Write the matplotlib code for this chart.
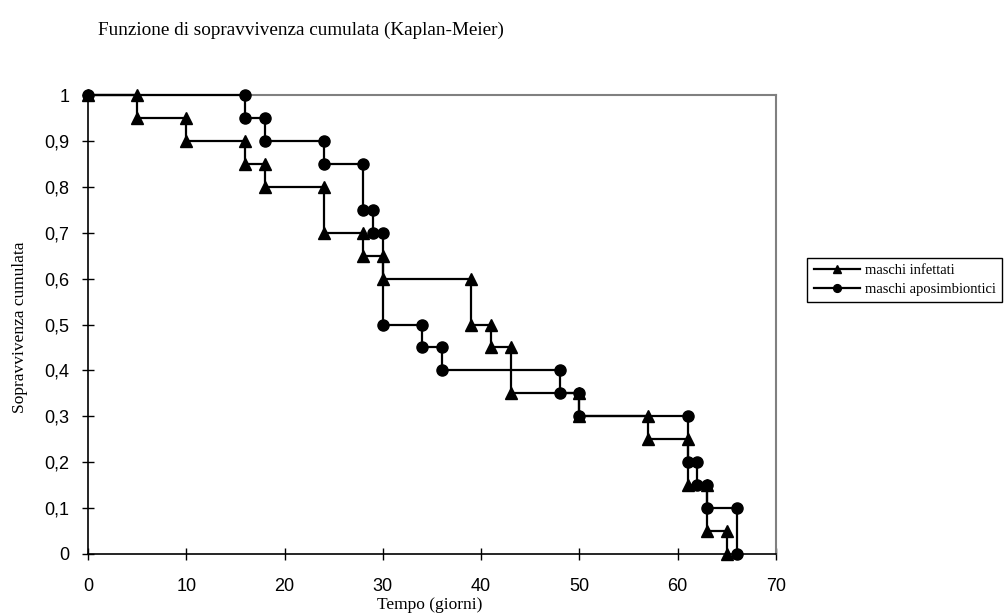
import matplotlib
matplotlib.use('Agg')
import matplotlib.pyplot as plt
from matplotlib.ticker import FuncFormatter

# tempi e sopravvivenza (vertici della curva a gradini)
t_infettati = [0, 5, 5, 10, 10, 16, 16, 18, 18, 24, 24, 28, 28, 30, 30, 39, 39,
               41, 41, 43, 43, 50, 50, 57, 57, 61, 61, 63, 63, 65, 65]
s_infettati = [1, 1, 0.95, 0.95, 0.9, 0.9, 0.85, 0.85, 0.8, 0.8, 0.7, 0.7, 0.65,
               0.65, 0.6, 0.6, 0.5, 0.5, 0.45, 0.45, 0.35, 0.35, 0.3, 0.3, 0.25,
               0.25, 0.15, 0.15, 0.05, 0.05, 0]

t_aposimb = [0, 16, 16, 18, 18, 24, 24, 28, 28, 29, 29, 30, 30, 34, 34, 36, 36,
             48, 48, 50, 50, 61, 61, 62, 62, 63, 63, 66, 66]
s_aposimb = [1, 1, 0.95, 0.95, 0.9, 0.9, 0.85, 0.85, 0.75, 0.75, 0.7, 0.7, 0.5,
             0.5, 0.45, 0.45, 0.4, 0.4, 0.35, 0.35, 0.3, 0.3, 0.2, 0.2, 0.15,
             0.15, 0.1, 0.1, 0]

x_ticks = [0, 10, 20, 30, 40, 50, 60, 70]
y_ticks = [0, 0.1, 0.2, 0.3, 0.4, 0.5, 0.6, 0.7, 0.8, 0.9, 1]

serif = 'Liberation Serif'
sans = 'Liberation Sans'

fig = plt.figure(figsize=(10.06, 6.16), dpi=100)
ax = fig.add_axes([88 / 1006, 62 / 616, 688 / 1006, 459 / 616])

ax.plot(t_infettati, s_infettati, color='black', lw=1.6, marker='^', ms=8.5,
        clip_on=False, zorder=3, label='maschi infettati')
ax.plot(t_aposimb, s_aposimb, color='black', lw=1.6, marker='o', ms=8,
        clip_on=False, zorder=4, label='maschi aposimbiontici')

ax.set_xlim(0, 70)
ax.set_ylim(0, 1)
ax.set_xticks(x_ticks)
ax.set_yticks(y_ticks)
ax.yaxis.set_major_formatter(FuncFormatter(lambda v, p: ('%g' % round(v, 2)).replace('.', ',')))
ax.tick_params(direction='inout', length=9, width=1, labelsize=13)
ax.tick_params(axis='x', pad=13)
ax.tick_params(axis='y', pad=9)
for lab in ax.get_xticklabels() + ax.get_yticklabels():
    lab.set_fontfamily(sans)

for s in ['top', 'right']:
    ax.spines[s].set_color('#808080')
    ax.spines[s].set_linewidth(1.5)
for s in ['left', 'bottom']:
    ax.spines[s].set_color('black')
    ax.spines[s].set_linewidth(1.2)

fig.text(301 / 1006, 1 - 30 / 616, 'Funzione di sopravvivenza cumulata (Kaplan-Meier)',
         ha='center', va='center', fontsize=13.8, family=serif)
fig.text(430 / 1006, 1 - 605 / 616, 'Tempo (giorni)', ha='center', va='center',
         fontsize=12.5, family=serif)
fig.text(20 / 1006, 1 - 327 / 616, 'Sopravvivenza cumulata', ha='center', va='center',
         rotation=90, fontsize=12.5, family=serif)

leg = fig.legend(loc='center left', bbox_to_anchor=(807 / 1006, 1 - 280 / 616),
                 prop={'family': serif, 'size': 10.5}, fancybox=False,
                 edgecolor='black', framealpha=1, markerscale=0.7,
                 handlelength=3.2, handletextpad=0.3, borderpad=0.45,
                 labelspacing=0.35, borderaxespad=0)
leg.get_frame().set_linewidth(1)

fig.savefig('out.png', dpi=100)
